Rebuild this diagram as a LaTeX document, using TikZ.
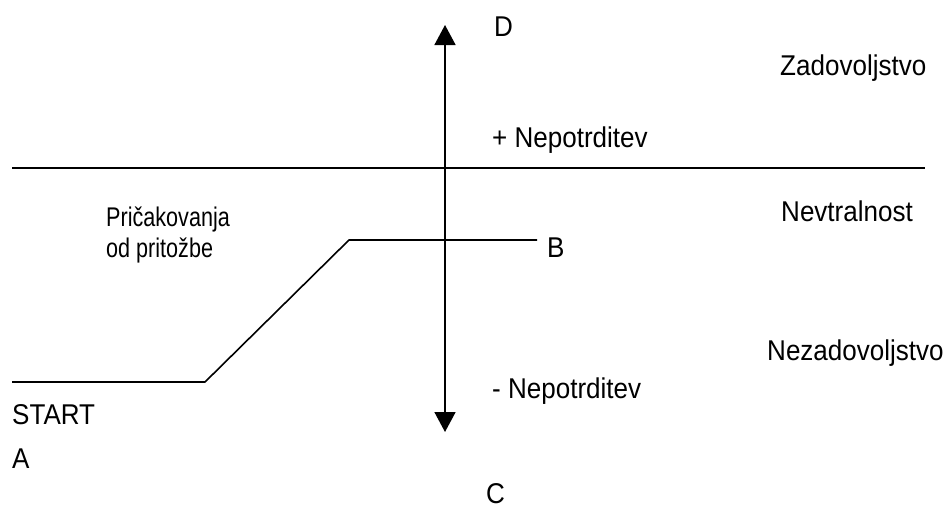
\documentclass[tikz,border=0pt]{standalone}
\usepackage{fontspec}
\setmainfont[FakeStretch=0.91]{Liberation Sans}
\newfontfamily\smallfam[FakeStretch=0.8]{Liberation Sans}
\usetikzlibrary{arrows.meta}
\begin{document}
\begin{tikzpicture}[x=1pt,y=-1pt,
  lbl/.style={inner sep=0pt,anchor=base west,font=\fontsize{28.6}{32}\selectfont},
  smalllbl/.style={inner sep=0pt,anchor=base west,align=left,font=\smallfam\fontsize{27}{31}\selectfont},
  ln/.style={line width=1.6pt},
  axisarrow/.style={ln,{Triangle[width=21pt,length=20pt]}-{Triangle[width=21pt,length=20pt]}}]
\useasboundingbox (0,0) rectangle (949,506);
% axes
\coordinate (top) at (445,25);
\coordinate (bot) at (445,432);
\coordinate (hl) at (12,168);
\coordinate (hr) at (925,168);
\draw[axisarrow] (bot) -- (top);
\draw[ln] (hl) -- (hr);
% expectation curve
\coordinate (p0) at (12,382);
\coordinate (p1) at (205,382);
\coordinate (p2) at (349,240);
\coordinate (p3) at (537,240);
\draw[ln,line join=round] (p0) -- (p1) -- (p2) -- (p3);
% labels
\node[lbl] (D) at (494,36) {D};
\node[lbl] (C) at (486,503) {C};
\node[lbl] (zad) at (780,75) {Zadovoljstvo};
\node[lbl] (pnep) at (492,147) {+ Nepotrditev};
\node[lbl] (nev) at (781,221) {Nevtralnost};
\node[lbl] (B) at (547,257) {B};
\node[lbl] (nez) at (767,360) {Nezadovoljstvo};
\node[lbl] (mnep) at (492,398) {- Nepotrditev};
\node[lbl] (start) at (12,424) {START};
\node[lbl] (A) at (12,468) {A};
\node[smalllbl] (prick) at (106,257) {Pričakovanja\\od pritožbe};
\end{tikzpicture}
\end{document}
